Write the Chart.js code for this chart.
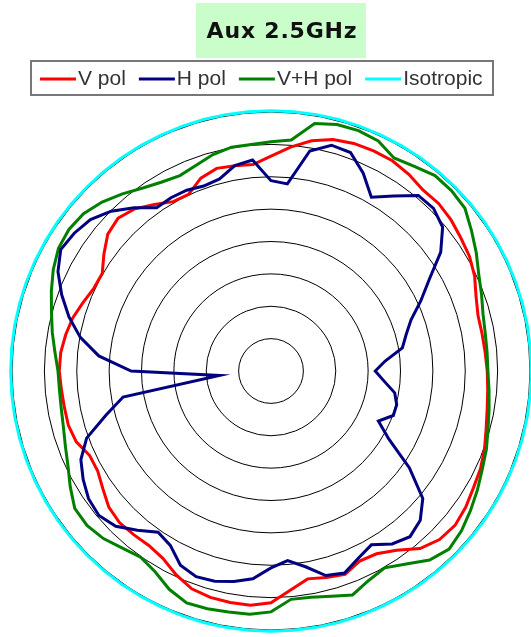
<!DOCTYPE html>
<html>
<head>
<meta charset="utf-8">
<script src="https://cdn.jsdelivr.net/npm/chart.js@4"></script>
<style>
  body { margin: 0; background: #fff; }
</style>
</head>
<body>
<canvas id="myChart" width="531" height="637"></canvas>
<script>
// bearing of each sample in degrees, 0 = top, clockwise
const angles = [];
for (let a = 0; a < 360; a += 5) angles.push(a);

// gain in dBi, one value per 5 degrees
const vPol = [
  -6.8, -5.3, -3.9, -3.0, -2.6, -2.5, -2.5, -2.9, -3.5, -3.4, -3.7, -4.2,
  -4.6, -5.3, -6.3, -6.9, -6.9, -6.8, -6.6, -6.4, -6.1, -5.6, -4.9, -4.3,
  -3.9, -3.3, -2.9, -3.2, -4.2, -6.2, -7.4, -7.6, -6.6, -7.0, -7.4, -6.0,
  -4.2, -3.7, -3.7, -3.8, -4.2, -5.3, -6.6, -7.1, -7.0, -6.9, -7.3, -8.3,
  -9.1, -9.1, -8.0, -7.6, -7.6, -7.5, -7.3, -7.4, -7.8, -8.3, -9.1, -9.8,
  -9.9, -8.5, -7.1, -6.6, -7.3, -8.6, -9.8, -9.9, -8.3, -7.6, -7.8, -8.0
];
const hPol = [
  -10.6, -11.0, -5.5, -3.9, -4.1, -6.3, -9.0, -7.0, -4.6, -4.5, -5.4, -8.0,
  -11.8, -14.5, -17.0, -18.4, -19.4, -22.3, -23.9, -22.5, -20.6, -19.9, -19.9, -21.7,
  -19.0, -13.9, -9.4, -7.4, -6.6, -7.4, -9.0, -8.1, -6.8, -7.3, -9.3, -10.6,
  -9.6, -7.8, -7.0, -6.4, -6.2, -6.9, -8.9, -9.6, -7.9, -6.1, -5.3, -5.6,
  -6.5, -7.6, -9.7, -13.6, -16.8, -32.0, -18.4, -13.3, -10.1, -7.7, -5.6, -3.7,
  -2.5, -2.9, -3.6, -5.1, -7.1, -9.2, -9.1, -9.2, -9.6, -9.3, -7.8, -7.3
];
const vhPol = [
  -4.6, -4.2, -1.2, -0.6, -0.5, -0.8, -2.0, -1.4, -0.6, -0.6, -0.9, -2.2,
  -3.4, -4.6, -5.4, -6.1, -6.4, -6.5, -6.5, -6.2, -5.8, -5.3, -4.6, -4.0,
  -3.2, -2.4, -1.6, -1.1, -1.9, -3.6, -4.9, -4.3, -3.2, -4.0, -4.5, -4.6,
  -2.8, -2.3, -2.2, -2.0, -1.9, -2.8, -4.2, -4.9, -4.3, -3.4, -2.9, -3.0,
  -4.2, -5.4, -6.2, -6.8, -7.1, -7.2, -7.1, -6.5, -5.7, -4.9, -3.9, -2.9,
  -2.1, -1.9, -2.2, -3.1, -4.3, -5.5, -6.3, -6.7, -6.2, -5.4, -4.9, -4.9
];
const isotropic = [
  0.2, 0.2, 0.2, 0.2, 0.2, 0.2, 0.2, 0.2, 0.2, 0.2, 0.2, 0.2,
  0.2, 0.2, 0.2, 0.2, 0.2, 0.2, 0.2, 0.2, 0.2, 0.2, 0.2, 0.2,
  0.2, 0.2, 0.2, 0.2, 0.2, 0.2, 0.2, 0.2, 0.2, 0.2, 0.2, 0.2,
  0.2, 0.2, 0.2, 0.2, 0.2, 0.2, 0.2, 0.2, 0.2, 0.2, 0.2, 0.2,
  0.2, 0.2, 0.2, 0.2, 0.2, 0.2, 0.2, 0.2, 0.2, 0.2, 0.2, 0.2,
  0.2, 0.2, 0.2, 0.2, 0.2, 0.2, 0.2, 0.2, 0.2, 0.2, 0.2, 0.2
];

// radial scale: rings every 5 dB
const rMin = -40;
const rMax = 0;
const rStep = 5;

// title box and framed legend, drawn on the canvas
const headerPlugin = {
  id: 'header',
  afterDraw(chart) {
    const ctx = chart.ctx;
    ctx.save();

    ctx.fillStyle = '#c9fdc9';
    ctx.fillRect(196, 3, 170, 55);
    ctx.fillStyle = '#111';
    ctx.font = 'bold 22px "DejaVu Sans"';
    ctx.letterSpacing = '0.8px';
    ctx.textAlign = 'center';
    ctx.textBaseline = 'alphabetic';
    ctx.fillText(chart.options.plugins.title.text, 282, 38);
    ctx.letterSpacing = '0px';

    ctx.strokeStyle = '#777';
    ctx.lineWidth = 2;
    ctx.strokeRect(31, 61, 462, 34);

    ctx.font = '21px "Liberation Sans"';
    ctx.textAlign = 'left';
    let x = 40;
    chart.data.datasets.forEach(ds => {
      ctx.strokeStyle = ds.borderColor;
      ctx.lineWidth = 3;
      ctx.beginPath();
      ctx.moveTo(x, 79);
      ctx.lineTo(x + 36, 79);
      ctx.stroke();
      ctx.fillStyle = '#333';
      ctx.fillText(ds.label, x + 38, 85);
      x += 38 + ctx.measureText(ds.label).width + 13;
    });
    ctx.restore();
  }
};

let ctx = document.getElementById('myChart');
new Chart(ctx, {
  type: 'radar',
  data: {
    labels: angles,
    datasets: [
      { label: 'V pol', data: vPol, borderColor: '#ff0000', order: 2 },
      { label: 'H pol', data: hPol, borderColor: '#000080', order: 0 },
      { label: 'V+H pol', data: vhPol, borderColor: '#008000', order: 1 },
      { label: 'Isotropic', data: isotropic, borderColor: '#00ffff', order: 3 }
    ]
  },
  options: {
    responsive: false,
    animation: false,
    layout: { padding: { top: 112, left: 12, right: 0, bottom: 7 } },
    elements: {
      line: { borderWidth: 3, tension: 0, fill: false },
      point: { radius: 0, hoverRadius: 0 }
    },
    datasets: { radar: { clip: false } },
    scales: {
      r: {
        min: rMin,
        max: rMax,
        ticks: { display: false, stepSize: rStep },
        grid: { circular: true, color: '#000', lineWidth: 1 },
        angleLines: { display: false },
        pointLabels: { display: false }
      }
    },
    plugins: {
      title: { display: false, text: 'Aux 2.5GHz' },
      legend: { display: false },
      tooltip: { enabled: false }
    }
  },
  plugins: [headerPlugin]
});
</script>
</body>
</html>
